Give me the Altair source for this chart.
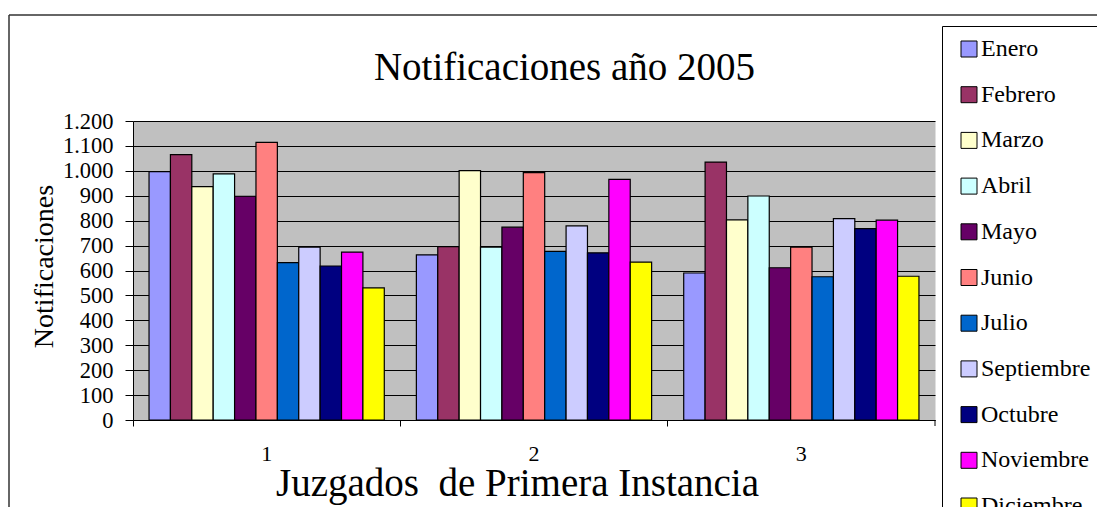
import altair as alt
import pandas as pd

groups = ["1", "2", "3"]
months = ["Enero", "Febrero", "Marzo", "Abril", "Mayo", "Junio", "Julio",
          "Septiembre", "Octubre", "Noviembre", "Diciembre"]
colors = ["#9999FF", "#993366", "#FFFFCC", "#CCFFFF", "#660066", "#FF8080",
          "#0066CC", "#CCCCFF", "#000080", "#FF00FF", "#FFFF00"]
g1 = [997, 1065, 937, 988, 898, 1114, 632, 694, 618, 674, 530]
g2 = [663, 696, 1001, 694, 774, 993, 677, 779, 671, 966, 634]
g3 = [590, 1035, 803, 899, 611, 694, 575, 808, 768, 802, 577]
y_ticks = list(range(0, 1201, 100))

rows = []
for g, vals in zip(groups, [g1, g2, g3]):
    for m, v in zip(months, vals):
        rows.append({"grupo": g, "mes": m, "valor": v})
df = pd.DataFrame(rows)

FONT = "Liberation Serif"
W, H = 802, 299

bars = alt.Chart(df).mark_bar(stroke="black", strokeWidth=1.2).encode(
    x=alt.X("grupo:N", sort=groups,
            scale=alt.Scale(paddingInner=0, paddingOuter=0),
            axis=alt.Axis(title="Juzgados \u00a0de Primera Instancia", labelAngle=0,
                          bandPosition=0, labelOffset=0, tickSize=6,
                          labelPadding=17, labelFontSize=22, labelFont=FONT,
                          labelColor="black", titleFont=FONT, titleFontSize=39,
                          titleFontWeight="normal", titleColor="black",
                          titleY=75, titleX=384, titleBaseline="alphabetic",
                          titleAlign="center", grid=False)),
    xOffset=alt.XOffset("mes:N", sort=months,
                        scale=alt.Scale(paddingInner=0, paddingOuter=0.75)),
    y=alt.Y("valor:Q", scale=alt.Scale(domain=[0, 1200], nice=False),
            axis=alt.Axis(values=y_ticks, title="Notificaciones",
                          labelExpr="replace(format(datum.value, ','), ',', '.')",
                          labelFont=FONT, labelColor="black",
                          labelFontSize=22.5, labelPadding=12, tickSize=8,
                          grid=True, gridColor="black", gridWidth=1, gridOpacity=1,
                          titleFont=FONT, titleFontWeight="normal", titleColor="black",
                          titleFontSize=28, titleX=-81, titleY=145,
                          titleBaseline="alphabetic", titleAlign="center")),
    color=alt.Color("mes:N", sort=months,
                    scale=alt.Scale(domain=months, range=colors),
                    legend=alt.Legend(title=None, orient="none", legendX=809, legendY=-95,
                                      symbolType="square", symbolSize=256,
                                      symbolStrokeColor="black", symbolStrokeWidth=1,
                                      symbolOffset=4, labelFont=FONT, labelColor="black",
                                      labelFontSize=24, labelOffset=0,
                                      rowPadding=21.7, padding=11,
                                      strokeColor="black", fillColor="white")),
)

one = pd.DataFrame({"k": [0]})
frame_top = alt.Chart(one).mark_rule(color="#333333", strokeWidth=1.5).encode(
    x=alt.value(-124), x2=alt.value(990), y=alt.value(-106))
frame_left = alt.Chart(one).mark_rule(color="#333333", strokeWidth=1.5).encode(
    x=alt.value(-124), y=alt.value(-106), y2=alt.value(420))
end_tick = alt.Chart(one).mark_rule(color="black", strokeWidth=1).encode(
    x=alt.value(W), y=alt.value(H), y2=alt.value(H + 6))

chart = alt.layer(bars, frame_top, frame_left, end_tick).properties(
    width=W, height=H,
    autosize=alt.AutoSizeParams(type="none"),
    padding={"left": 125, "top": 113, "right": 162, "bottom": 87},
    title=alt.TitleParams("Notificaciones año 2005", fontSize=39, font=FONT,
                          fontWeight="normal", color="black", anchor="middle",
                          baseline="alphabetic", offset=-104.75, dx=30.5),
).configure_view(fill="#C0C0C0", stroke="transparent").configure_axis(
    labelFont=FONT, titleFont=FONT, labelColor="black", titleColor="black",
    titleFontWeight="normal", domainColor="black", tickColor="black",
    domainWidth=1, tickWidth=1,
).configure_legend(labelFont=FONT, labelColor="black")

chart.save("out.html", embed_options={"renderer": "svg", "actions": False})
